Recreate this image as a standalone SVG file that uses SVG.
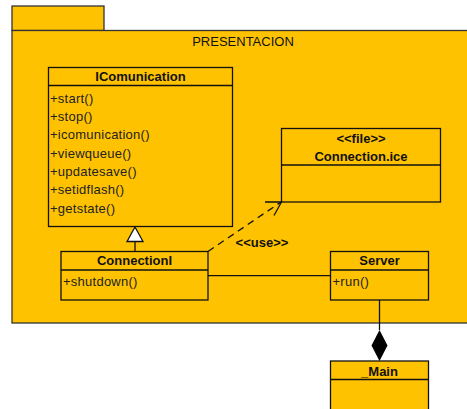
<svg xmlns="http://www.w3.org/2000/svg" width="467" height="409" viewBox="0 0 467 409">
<style>
.pkg{fill:#FFC200;stroke:#333;stroke-width:1.3}
.cls{fill:#FFC200;stroke:#111;stroke-width:1.3}
.div{stroke:#111;stroke-width:1.3}
.t{font-family:"Liberation Sans",Arial,sans-serif;font-size:13px;fill:#111}
.b{font-weight:bold;text-anchor:middle}
.m{font-family:"Liberation Sans",Arial,sans-serif;font-size:13px;fill:#222;letter-spacing:0.25px}
.ln{stroke:#111;stroke-width:1.3;fill:none}
</style>
<g id="PRESENTACION">
<rect class="pkg" x="12" y="6" width="92" height="24.5"/>
<rect class="pkg" x="12" y="30.5" width="460" height="292.5"/>
<text class="t" x="243" y="45.5" text-anchor="middle">PRESENTACION</text>
</g>
<g id="IComunication">
<rect class="cls" x="48.5" y="67.5" width="184" height="159"/>
<line class="div" x1="48.5" y1="85.5" x2="232.5" y2="85.5"/>
<text class="t b" x="140.5" y="81.3">IComunication</text>
<text class="m" x="50" y="102.5">+start()</text>
<text class="m" x="50" y="120.8">+stop()</text>
<text class="m" x="50" y="139.2">+icomunication()</text>
<text class="m" x="50" y="157.5">+viewqueue()</text>
<text class="m" x="50" y="175.8">+updatesave()</text>
<text class="m" x="50" y="194.2">+setidflash()</text>
<text class="m" x="50" y="212.5">+getstate()</text>
</g>
<g id="ConnectionIce">
<rect class="cls" x="281.5" y="128.5" width="159" height="73.5"/>
<line class="div" x1="281.5" y1="165" x2="440.5" y2="165"/>
<text class="t b" x="361" y="142.5">&lt;&lt;file&gt;&gt;</text>
<text class="t b" x="361" y="160.7">Connection.ice</text>
</g>
<g id="ConnectionI">
<rect class="cls" x="61" y="251.5" width="147" height="48.5"/>
<line class="div" x1="61" y1="270" x2="208" y2="270"/>
<text class="t b" x="134.5" y="265.4">ConnectionI</text>
<text class="m" x="63" y="286.2">+shutdown()</text>
</g>
<g id="Server">
<rect class="cls" x="330.5" y="251.5" width="98" height="48.5"/>
<line class="div" x1="330.5" y1="270" x2="428.5" y2="270"/>
<text class="t b" x="379.5" y="265.4">Server</text>
<text class="m" x="332.5" y="286.2">+run()</text>
</g>
<g id="Main">
<rect class="cls" x="330.5" y="361" width="98" height="52"/>
<line class="div" x1="330.5" y1="379.5" x2="428.5" y2="379.5"/>
<text class="t b" x="379.5" y="375.5">_Main</text>
</g>
<g id="connectors">
<line class="ln" x1="135" y1="241.5" x2="135" y2="251.5"/>
<polygon points="135,227 127,241.5 143,241.5" fill="#fff" stroke="#111" stroke-width="1.3"/>
<line class="ln" x1="208" y1="251.5" x2="281" y2="202" stroke-dasharray="7,5" stroke-width="1.6"/>
<polyline class="ln" points="265,202 281.5,202 274,215.5" stroke-width="1.6"/>
<text class="t b" x="262" y="246.5">&lt;&lt;use&gt;&gt;</text>
<line class="ln" x1="208" y1="275.7" x2="330.5" y2="275.7"/>
<line class="ln" x1="379.5" y1="300" x2="379.5" y2="330"/>
<polygon points="379.5,330 387.5,345.5 379.5,361 371.5,345.5" fill="#000"/>
</g>
</svg>
